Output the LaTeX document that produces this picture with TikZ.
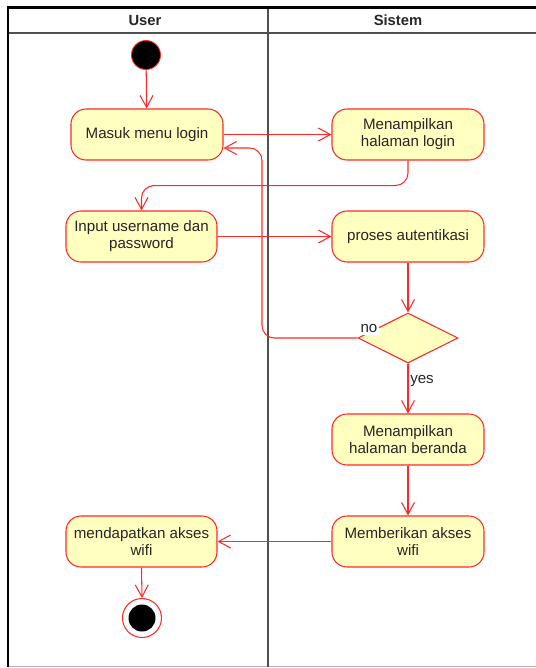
\documentclass[tikz,border=0pt]{standalone}
\usepackage{fontspec}
\setmainfont{Liberation Sans}
\usepackage{tikz}
\usetikzlibrary{calc}
\usetikzlibrary{arrows.meta}
\usetikzlibrary{shapes.geometric}
\usepackage{color}
\definecolor{umlred}{RGB}{255, 40, 40}
\definecolor{umlfill}{RGB}{255, 255, 192}
\definecolor{laneline}{RGB}{80, 80, 80}
\tikzset{
    activity/.style={draw=umlred, fill=umlfill, line width=0.6pt, rounded corners=0.30cm,
                     minimum width=3.04cm, minimum height=1.02cm, align=center, text=black!85,
                     font=\fontsize{8.6}{9.7}\selectfont},
    decision/.style={draw=umlred, fill=umlfill, line width=0.6pt, diamond, aspect=2,
                     minimum width=2.00cm, minimum height=1.00cm, inner sep=0pt},
    startnode/.style={draw=umlred, fill=black, circle, line width=0.5pt, minimum size=0.58cm, inner sep=0pt},
    endnode/.style={draw=umlred, fill=white, circle, line width=0.6pt, minimum size=0.78cm, inner sep=0pt},
    flow/.style={draw=umlred, line width=0.6pt, -{Straight Barb[length=2.4mm, width=2.6mm]}},
    guard/.style={text=black!85, font=\fontsize{8.6}{9.7}\selectfont, inner sep=1pt},
    lanehead/.style={font=\bfseries\fontsize{8.4}{9.7}\selectfont, text=black!85}
}

\begin{document}
\begin{tikzpicture}
    \useasboundingbox (0.00, 0.00) rectangle (10.72, -13.36);
    % Swimlanes:
    \draw[color=black!30,   line width=0.8pt] ( 0.16,-13.33) -- (10.80,-13.33);
    \draw[color=laneline,   line width=1.2pt] ( 0.16, -0.66) -- (10.80, -0.66);
    \draw[color=laneline,   line width=1.2pt] ( 5.36, -0.15) -- ( 5.36,-13.33);
    \draw[color=black,      line width=1.2pt] ( 0.16,-13.33) -- ( 0.16, -0.15) -- (10.80, -0.15);
    \node[lanehead] (user)   at ( 2.90, -0.41) {User};
    \node[lanehead] (sistem) at ( 7.96, -0.41) {Sistem};

    % Activities:
    \node[startnode]          (start)   at ( 2.92, -1.10) {};
    \node[activity]           (masuk)   at ( 2.94, -2.69) {Masuk menu login};
    \node[activity]           (tampil)  at ( 8.16, -2.69) {Menampilkan\\halaman login};
    \node[activity, minimum width=3.02cm] (input) at ( 2.83, -4.73) {Input username dan\\password};
    \node[activity]           (proses)  at ( 8.16, -4.73) {proses autentikasi};
    \node[decision]           (cek)     at ( 8.16, -6.76) {};
    \node[activity]           (beranda) at ( 8.16, -8.79) {Menampilkan\\halaman beranda};
    \node[activity]           (beri)    at ( 8.16,-10.83) {Memberikan akses\\wifi};
    \node[activity, minimum width=3.02cm] (dapat) at ( 2.83,-10.83) {mendapatkan akses\\wifi};
    \node[endnode]            (stop)    at ( 2.84,-12.36) {};
    \fill[black] (stop.center) circle (0.27);
    \coordinate               (balik)   at ( 5.24, -2.96);

    % Flows:
    \draw[flow] (start)       -- (masuk);
    \draw[flow] (masuk.east)  -- (tampil.west);
    \draw[flow, rounded corners=0.25cm] (tampil.south) -- ++(0,-0.50) -| (input.north);
    \draw[flow] (input.east)  -- (proses.west);
    \draw[flow] (proses.south) -- (cek.north);
    \draw[flow, rounded corners=0.25cm] (cek.west) -| (balik) -- (balik -| masuk.east);
    \node[guard, fill=white, anchor=south west] (no) at ($(cek.west)+(0.02,0.06)$) {no};
    \draw[flow] (cek.south)   -- node[guard, right, pos=0.35] (yes) {yes} (beranda.north);
    \draw[flow] (beranda.south) -- (beri.north);
    \draw[flow] (beri.west)   -- (dapat.east);
    \draw[flow] (dapat.south) -- (stop.north);
\end{tikzpicture}
\end{document}
